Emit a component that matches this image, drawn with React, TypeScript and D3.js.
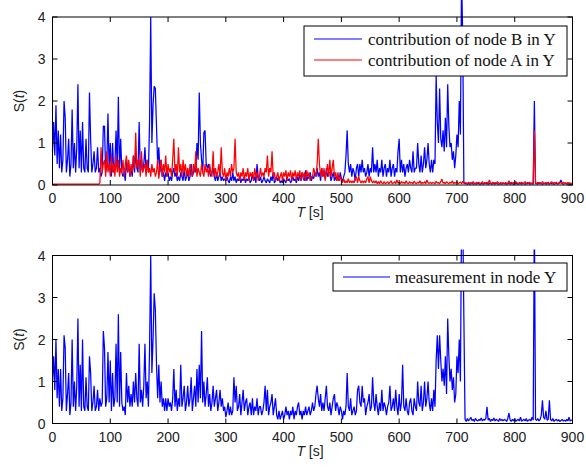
import React from "react";
import * as d3 from "d3";

// sampling step of the series, in seconds (one value every 2 s, 0..900)
const STEP = 2;

const xTicks = [0, 100, 200, 300, 400, 500, 600, 700, 800, 900];
const yTicks = [0, 1, 2, 3, 4];

// contribution of node B in Y (top, blue) — rows of 30 s
const nodeB: number[] = [
  0.8, 1.5, 0.7, 1.9, 0.5, 1.3, 0.4, 1.2, 0.3, 0.6, 2.0, 1.6, 0.3, 0.6, 1.1,
  0.2, 0.5, 1.8, 0.4, 1.0, 0.3, 0.9, 2.4, 0.4, 1.3, 0.3, 1.5, 0.4, 0.3, 1.1,
  0.4, 0.3, 2.2, 1.1, 0.3, 0.5, 0.8, 0.3, 0.4, 0.9, 0.3, 0.4, 0.2, 0.3, 1.4,
  1.4, 0.3, 0.5, 1.7, 0.4, 1.0, 0.2, 1.0, 0.3, 0.5, 1.3, 0.4, 2.1, 0.3, 1.1,
  0.3, 0.2, 0.3, 0.1, 0.6, 0.3, 0.5, 0.2, 0.4, 0.2, 0.7, 0.3, 0.8, 0.4, 0.3,
  1.5, 0.3, 0.6, 0.3, 0.5, 0.9, 0.3, 0.6, 0.3, 1.5, 4.0, 1.0, 1.9, 2.35, 2.3,
  1.4, 0.5, 0.9, 0.3, 0.6, 0.2, 0.3, 0.1, 0.3, 0.2, 0.3, 0.1, 0.2, 0.1, 0.3,
  0.4, 0.2, 0.3, 0.1, 0.2, 0.1, 0.3, 0.2, 0.1, 0.4, 0.1, 0.2, 0.3, 0.1, 0.2,
  0.5, 0.2, 0.3, 0.4, 0.3, 1.0, 0.6, 2.2, 1.0, 0.6, 0.3, 1.25, 1.3, 0.5, 0.4,
  0.5, 0.3, 0.2, 0.3, 0.4, 0.2, 0.1, 0.3, 0.1, 0.2, 0.3, 0.1, 0.2, 0.1, 0.15,
  0.1, 0.2, 0.1, 0.05, 0.2, 0.1, 0.3, 0.1, 0.2, 0.05, 0.15, 0.1, 0.2, 0.05, 0.15,
  0.1, 0.2, 0.05, 0.15, 0.1, 0.2, 0.05, 0.1, 0.3, 0.1, 0.2, 0.05, 0.5, 0.2, 0.1,
  0.2, 0.05, 0.1, 0.2, 0.1, 0.05, 0.15, 0.1, 0.05, 0.2, 0.1, 0.3, 0.05, 0.1, 0.2,
  0.1, 0.2, 0.05, 0.1, 0.05, 0.15, 0.1, 0.05, 0.2, 0.1, 0.15, 0.05, 0.1, 0.2, 0.1,
  0.15, 0.05, 0.2, 0.1, 0.25, 0.1, 0.3, 0.15, 0.1, 0.35, 0.1, 0.2, 0.15, 0.3, 0.1,
  0.2, 0.15, 0.3, 0.2, 0.4, 0.2, 0.3, 0.1, 0.4, 0.2, 0.3, 0.15, 0.4, 0.2, 0.3,
  0.3, 0.1, 0.2, 0.3, 0.1, 0.2, 0.1, 0.2, 0.1, 0.3, 0.15, 0.1, 0.2, 0.3, 0.7,
  1.3, 0.5, 0.3, 0.5, 0.2, 0.4, 0.3, 0.1, 0.4, 0.5, 0.2, 0.5, 0.3, 0.6, 0.3,
  0.4, 0.2, 0.3, 0.5, 0.2, 0.4, 0.3, 0.9, 0.3, 0.5, 0.3, 0.6, 0.2, 0.4, 0.3,
  0.6, 0.2, 0.4, 0.5, 0.2, 0.4, 0.3, 0.6, 0.2, 0.4, 0.5, 0.2, 0.4, 0.3, 0.8,
  1.1, 0.3, 0.6, 0.3, 0.5, 0.2, 0.4, 0.5, 0.3, 0.6, 0.4, 0.3, 0.8, 0.3, 0.4,
  0.4, 1.0, 0.5, 0.3, 0.7, 0.3, 0.5, 0.9, 0.4, 0.6, 1.0, 0.5, 0.3, 0.6, 0.3,
  0.6, 0.5, 2.6, 1.5, 1.0, 2.3, 1.1, 0.9, 1.3, 0.8, 1.6, 0.9, 2.4, 1.4, 0.9,
  1.0, 0.6, 0.8, 0.4, 0.7, 1.2, 0.9, 2.0, 1.2, 5.0, 3.5, 0.05, 0.03, 0.04, 0.02,
  0.04, 0.02, 0.03, 0.05, 0.02, 0.03, 0.04, 0.02, 0.05, 0.03, 0.02, 0.04, 0.03, 0.02, 0.05,
  0.03, 0.04, 0.02, 0.03, 0.05, 0.02, 0.03, 0.04, 0.02, 0.05, 0.03, 0.02, 0.04, 0.03, 0.02,
  0.05, 0.03, 0.04, 0.02, 0.03, 0.05, 0.02, 0.04, 0.03, 0.02, 0.05, 0.03, 0.04, 0.02, 0.03,
  0.04, 0.02, 0.05, 0.03, 0.02, 0.04, 0.03, 0.05, 0.02, 0.03, 0.04, 0.02, 2.0, 0.03, 0.04,
  0.02, 0.05, 0.03, 0.04, 0.02, 0.03, 0.05, 0.02, 0.04, 0.03, 0.02, 0.05, 0.03, 0.04, 0.02,
  0.03, 0.05, 0.02, 0.04, 0.06, 0.12, 0.04, 0.02, 0.03, 0.05, 0.02, 0.04, 0.03, 0.02, 0.04,
  0.03,
];

// contribution of node A in Y (top, red) — rows of 30 s
const nodeA: number[] = [
  0.02, 0.02, 0.02, 0.02, 0.02, 0.02, 0.02, 0.02, 0.02, 0.02, 0.02, 0.02, 0.02, 0.02, 0.02,
  0.02, 0.02, 0.02, 0.02, 0.02, 0.02, 0.02, 0.02, 0.02, 0.02, 0.02, 0.02, 0.02, 0.02, 0.02,
  0.02, 0.02, 0.02, 0.02, 0.02, 0.02, 0.02, 0.02, 0.02, 0.02, 0.02, 0.05, 0.9, 0.3, 0.5,
  0.6, 0.2, 0.8, 0.3, 0.5, 0.2, 0.7, 0.3, 0.5, 0.2, 0.7, 0.3, 0.6, 0.2, 0.4,
  0.3, 0.6, 0.2, 0.5, 0.7, 0.3, 0.6, 0.2, 0.5, 0.3, 0.7, 0.4, 1.25, 0.4, 0.6,
  0.6, 0.2, 0.8, 0.3, 0.4, 0.5, 0.2, 0.6, 0.3, 0.4, 0.2, 0.5, 0.3, 0.4, 0.2,
  0.3, 0.6, 0.15, 0.4, 0.6, 0.2, 0.5, 0.3, 0.7, 0.2, 0.5, 0.3, 0.4, 0.2, 0.6,
  1.1, 0.3, 0.5, 0.2, 0.9, 0.3, 0.5, 0.2, 0.6, 0.3, 0.5, 0.2, 0.4, 0.2, 0.5,
  0.3, 0.2, 0.5, 0.3, 0.8, 0.2, 0.4, 0.3, 0.2, 0.5, 0.3, 0.2, 0.5, 0.3, 0.4,
  0.2, 0.5, 0.3, 0.2, 0.8, 0.2, 0.4, 0.2, 0.3, 0.5, 0.2, 0.9, 0.3, 0.2, 0.4,
  0.1, 0.3, 0.2, 0.4, 0.2, 0.5, 0.3, 0.4, 1.1, 0.3, 0.2, 0.3, 0.1, 0.3, 0.2,
  0.4, 0.1, 0.3, 0.2, 0.4, 0.1, 0.3, 0.2, 0.3, 0.1, 0.4, 0.2, 0.3, 0.1, 0.2,
  0.4, 0.2, 0.3, 0.2, 0.4, 0.3, 0.7, 0.2, 0.4, 0.3, 0.8, 0.2, 0.3, 0.1, 0.2,
  0.3, 0.1, 0.2, 0.3, 0.1, 0.3, 0.2, 0.35, 0.1, 0.3, 0.2, 0.35, 0.1, 0.3, 0.2,
  0.35, 0.1, 0.3, 0.2, 0.35, 0.1, 0.3, 0.2, 0.3, 0.1, 0.35, 0.2, 0.3, 0.1, 0.2,
  0.2, 0.4, 0.3, 0.2, 0.5, 1.1, 0.5, 0.2, 0.4, 0.2, 0.4, 0.1, 0.3, 0.5, 0.2,
  0.6, 0.2, 0.4, 0.6, 0.2, 0.3, 0.1, 0.3, 0.1, 0.2, 0.1, 0.05, 0.15, 0.05, 0.1,
  0.05, 0.15, 0.05, 0.1, 0.05, 0.1, 0.05, 0.15, 0.2, 0.05, 0.2, 0.1, 0.05, 0.1, 0.05,
  0.1, 0.05, 0.15, 0.2, 0.05, 0.2, 0.1, 0.05, 0.1, 0.05, 0.1, 0.03, 0.08, 0.03, 0.1,
  0.05, 0.03, 0.08, 0.03, 0.05, 0.08, 0.03, 0.06, 0.1, 0.03, 0.05, 0.08, 0.03, 0.12, 0.04,
  0.06, 0.03, 0.09, 0.04, 0.07, 0.03, 0.1, 0.05, 0.03, 0.08, 0.04, 0.06, 0.03, 0.09, 0.05,
  0.03, 0.07, 0.04, 0.1, 0.03, 0.06, 0.04, 0.08, 0.03, 0.12, 0.05, 0.04, 0.07, 0.03, 0.06,
  0.05, 0.03, 0.09, 0.04, 0.06, 0.03, 0.08, 0.14, 0.04, 0.06, 0.03, 0.08, 0.05, 0.03, 0.07,
  0.04, 0.1, 0.03, 0.06, 0.04, 0.08, 0.03, 0.05, 0.07, 0.03, 0.09, 0.04, 0.06, 0.05, 0.03,
  0.07, 0.04, 0.06, 0.03, 0.08, 0.05, 0.03, 0.06, 0.04, 0.07, 0.03, 0.05, 0.08, 0.03, 0.06,
  0.04, 0.07, 0.03, 0.12, 0.05, 0.03, 0.07, 0.04, 0.06, 0.03, 0.08, 0.05, 0.03, 0.06, 0.04,
  0.05, 0.03, 0.06, 0.04, 0.05, 0.1, 0.03, 0.07, 0.04, 0.06, 0.03, 0.08, 0.05, 0.03, 0.06,
  0.04, 0.07, 0.03, 0.05, 0.08, 0.03, 0.06, 0.04, 0.07, 0.03, 0.05, 0.04, 1.3, 0.05, 0.03,
  0.07, 0.04, 0.06, 0.03, 0.08, 0.05, 0.03, 0.06, 0.04, 0.07, 0.03, 0.05, 0.08, 0.03, 0.06,
  0.04, 0.07, 0.03, 0.05, 0.04, 0.06, 0.03, 0.07, 0.04, 0.05, 0.03, 0.06, 0.04, 0.05, 0.03,
  0.04,
];

// measurement in node Y (bottom, blue) — rows of 30 s
const nodeY: number[] = [
  1.0, 1.6, 0.8, 2.0, 0.6, 1.3, 0.4, 1.3, 0.3, 0.6, 2.1, 1.8, 0.3, 0.7, 1.2,
  0.2, 0.5, 2.0, 0.4, 1.0, 0.3, 0.9, 2.5, 0.4, 1.4, 0.3, 2.0, 0.4, 0.3, 1.1,
  0.4, 0.3, 1.6, 1.2, 0.3, 0.5, 0.9, 0.3, 0.4, 0.8, 0.3, 0.6, 0.4, 0.5, 2.2,
  1.8, 0.4, 0.6, 1.7, 0.5, 1.5, 0.3, 1.2, 0.4, 0.6, 1.9, 0.5, 2.6, 0.4, 1.7,
  0.5, 0.3, 0.4, 0.2, 1.2, 0.5, 0.9, 0.4, 0.7, 0.4, 1.0, 0.5, 1.2, 0.6, 0.4,
  1.9, 0.5, 0.8, 0.4, 0.9, 1.9, 0.6, 1.0, 0.4, 1.8, 4.0, 1.2, 2.0, 3.1, 2.7,
  1.4, 0.6, 1.4, 0.5, 1.0, 0.4, 0.6, 0.3, 0.6, 0.3, 0.6, 0.4, 0.5, 0.3, 0.6,
  1.3, 0.4, 0.8, 0.3, 0.6, 0.4, 1.4, 0.4, 0.6, 0.9, 0.3, 0.5, 0.9, 0.4, 0.6,
  1.1, 0.3, 0.6, 0.9, 0.4, 1.3, 0.5, 1.4, 0.6, 2.2, 0.5, 1.0, 0.4, 0.7, 1.1,
  0.4, 0.7, 0.3, 0.5, 0.9, 0.4, 0.6, 0.8, 0.3, 0.5, 0.8, 0.4, 0.6, 0.3, 0.4,
  0.15, 0.3, 0.5, 0.2, 0.4, 0.2, 0.3, 1.1, 0.5, 0.9, 0.3, 0.4, 0.7, 0.2, 0.5,
  0.8, 0.3, 0.5, 0.6, 0.2, 0.4, 0.5, 0.2, 0.6, 0.2, 0.4, 0.3, 0.6, 0.2, 0.4,
  0.4, 0.2, 0.3, 0.5, 0.9, 0.3, 0.8, 0.2, 0.4, 0.5, 0.7, 0.2, 0.4, 0.6, 0.2,
  0.1, 0.3, 0.1, 0.2, 0.3, 0.1, 0.2, 0.4, 0.2, 0.3, 0.1, 0.3, 0.2, 0.4, 0.1,
  0.3, 0.2, 0.4, 0.5, 0.2, 0.3, 0.1, 0.3, 0.2, 0.4, 0.2, 0.3, 0.4, 0.2, 0.3,
  0.5, 0.3, 0.4, 0.7, 0.9, 0.6, 0.4, 0.7, 0.3, 0.5, 0.3, 0.6, 0.9, 0.4, 0.3,
  0.5, 0.2, 0.4, 0.6, 0.7, 0.3, 0.5, 0.4, 0.2, 0.4, 0.3, 0.1, 0.3, 0.2, 0.4,
  1.2, 0.4, 0.3, 0.6, 0.2, 0.3, 0.4, 0.2, 0.3, 0.8, 0.9, 0.5, 0.4, 0.9, 0.5,
  0.6, 0.2, 0.4, 0.5, 0.7, 0.3, 0.4, 1.1, 0.5, 0.3, 0.7, 0.4, 0.2, 0.5, 0.3,
  0.8, 0.3, 0.5, 0.4, 0.2, 0.4, 0.5, 0.9, 0.3, 0.4, 0.6, 0.3, 0.8, 0.4, 0.2,
  0.7, 0.3, 0.5, 1.4, 0.4, 0.3, 0.6, 0.3, 0.2, 0.5, 0.6, 0.3, 0.2, 0.6, 0.4,
  0.3, 1.0, 0.5, 0.4, 0.9, 0.3, 0.5, 1.0, 0.4, 0.6, 1.0, 0.5, 0.3, 0.6, 0.3,
  0.8, 0.4, 1.5, 2.1, 1.3, 2.1, 1.5, 1.0, 1.3, 0.9, 1.6, 0.7, 2.5, 1.6, 1.0,
  1.3, 0.8, 1.1, 0.5, 0.7, 1.6, 1.2, 2.0, 1.0, 5.0, 5.0, 2.5, 0.1, 0.05, 0.12,
  0.06, 0.1, 0.15, 0.07, 0.1, 0.05, 0.12, 0.08, 0.06, 0.1, 0.07, 0.13, 0.06, 0.1, 0.08,
  0.12, 0.4, 0.08, 0.12, 0.05, 0.1, 0.07, 0.13, 0.06, 0.1, 0.08, 0.05, 0.12, 0.07, 0.1,
  0.06, 0.1, 0.08, 0.05, 0.12, 0.25, 0.08, 0.05, 0.1, 0.06, 0.12, 0.05, 0.08, 0.1, 0.06,
  0.15, 0.05, 0.08, 0.1, 0.06, 0.12, 0.05, 0.08, 0.1, 0.06, 0.15, 0.08, 5.0, 0.1, 0.07,
  0.12, 0.06, 0.1, 0.2, 0.55, 0.15, 0.1, 0.3, 0.08, 0.1, 0.55, 0.1, 0.06, 0.12, 0.05,
  0.08, 0.1, 0.06, 0.09, 0.05, 0.07, 0.1, 0.06, 0.08, 0.05, 0.1, 0.06, 0.15, 0.06, 0.08,
  0.08,
];

const W = 586;
const H = 468;
const X0 = 52.5;
const X1 = 572.5;

const x = d3.scaleLinear().domain([0, 900]).range([X0, X1]);
const sans = "Liberation Sans, Arial, sans-serif";
const serif = "Liberation Serif, Times New Roman, serif";

function Axes({ top, bottom, id, children, clipPad }: any) {
  const y = d3.scaleLinear().domain([0, 4]).range([bottom, top]);
  const tick = 5;
  return (
    <g>
      <defs>
        <clipPath id={id}>
          <rect x={X0} y={top - clipPad} width={X1 - X0} height={bottom - top + clipPad + 1} />
        </clipPath>
      </defs>
      {children(y)}
      <rect x={X0} y={top} width={X1 - X0} height={bottom - top} fill="none" stroke="#000" strokeWidth={1} />
      {xTicks.map((t) => (
        <g key={"x" + t}>
          <line x1={x(t)} x2={x(t)} y1={bottom} y2={bottom - tick} stroke="#000" />
          <line x1={x(t)} x2={x(t)} y1={top} y2={top + tick} stroke="#000" />
          <text x={x(t)} y={bottom + 18} textAnchor="middle" fontSize={14} fontFamily={sans} fill="#222">
            {t}
          </text>
        </g>
      ))}
      {yTicks.map((t) => (
        <g key={"y" + t}>
          <line x1={X0} x2={X0 + tick} y1={y(t)} y2={y(t)} stroke="#000" />
          <line x1={X1} x2={X1 - tick} y1={y(t)} y2={y(t)} stroke="#000" />
          <text x={X0 - 7} y={y(t) + 5} textAnchor="end" fontSize={14} fontFamily={sans} fill="#222">
            {t}
          </text>
        </g>
      ))}
      <text x={310} y={bottom + 32} textAnchor="middle" fontSize={14} fontFamily={sans} fill="#222">
        <tspan fontStyle="italic">T</tspan> [s]
      </text>
      <text
        transform={`translate(24,${(top + bottom) / 2}) rotate(-90)`}
        textAnchor="middle"
        fontSize={14}
        fontFamily={sans}
        fill="#222"
      >
        S(<tspan fontStyle="italic">t</tspan>)
      </text>
    </g>
  );
}

function path(data: number[], y: any) {
  const line = d3
    .line<number>()
    .x((_, i) => x(i * STEP))
    .y((d) => y(d));
  return line(data) || "";
}

export default function App() {
  return (
    <svg width={W} height={H} style={{ position: "absolute", left: 0, top: 0, background: "#fff" }}>
      <rect width={W} height={H} fill="#fff" />
      <Axes top={17} bottom={185} id="clipTop" clipPad={40}>
        {(y: any) => (
          <g>
            <path d={path(nodeB, y)} fill="none" stroke="#0000ff" strokeWidth={1.25} strokeLinejoin="bevel" />
            <path d={path(nodeA, y)} fill="none" stroke="#ff0000" strokeWidth={1.25} strokeLinejoin="bevel" clipPath="url(#clipTop)" />
          </g>
        )}
      </Axes>
      <g>
        <rect x={304} y={26} width={263} height={50} fill="#fff" stroke="#000" strokeWidth={1} />
        <line x1={314} x2={362} y1={39} y2={39} stroke="#0000ff" strokeWidth={1} />
        <text x={368} y={45} fontSize={17} fontFamily={serif} fill="#111">contribution of node B in Y</text>
        <line x1={314} x2={362} y1={60} y2={60} stroke="#ff0000" strokeWidth={1} />
        <text x={368} y={66} fontSize={17} fontFamily={serif} fill="#111">contribution of node A in Y</text>
      </g>
      <Axes top={255.5} bottom={423.5} id="clipBottom" clipPad={6}>
        {(y: any) => (
          <path d={path(nodeY, y)} fill="none" stroke="#0000ff" strokeWidth={1.25} strokeLinejoin="bevel" clipPath="url(#clipBottom)" />
        )}
      </Axes>
      <g>
        <rect x={333} y={263} width={234} height={28} fill="#fff" stroke="#000" strokeWidth={1} />
        <line x1={343} x2={390} y1={277} y2={277} stroke="#0000ff" strokeWidth={1} />
        <text x={395} y={283} fontSize={17} fontFamily={serif} fill="#111">measurement in node Y</text>
      </g>
    </svg>
  );
}
